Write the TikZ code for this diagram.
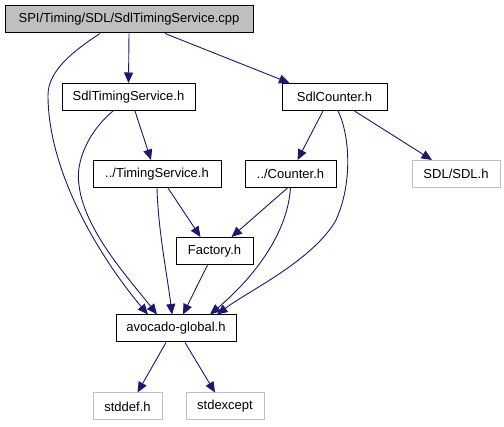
\documentclass[tikz,border=0pt]{standalone}
\usepackage{fontspec}
\setmainfont{Liberation Sans}
\usetikzlibrary{arrows.meta}
\definecolor{edgeblue}{RGB}{25,25,112}
\definecolor{lightframe}{RGB}{191,191,191}
\tikzset{
  box/.style={draw=black, line width=1pt, minimum height=27pt, inner sep=0pt, font=\fontsize{13}{15}\selectfont},
  greybox/.style={box, draw=lightframe},
  edge/.style={draw=edgeblue, line width=0.9pt, -{Triangle[length=10.5pt,width=9pt]}},
}
\begin{document}
\begin{tikzpicture}[x=1pt,y=-1pt]
\useasboundingbox (0,0) rectangle (504,427);
\node[box, fill=lightframe, minimum width=248pt] (top) at (129,19.5) {SPI/Timing/SDL/SdlTimingService.cpp};
\node[box, minimum width=133pt] (sts) at (128.5,97) {SdlTimingService.h};
\node[box, minimum width=105pt] (sc) at (334.5,97) {SdlCounter.h};
\node[box, minimum width=128pt] (ts) at (157,174) {../TimingService.h};
\node[box, minimum width=91pt] (ctr) at (290.5,174) {../Counter.h};
\node[greybox, minimum width=88pt] (sdl) at (456,174) {SDL/SDL.h};
\node[box, minimum width=77pt] (fac) at (214.5,251) {Factory.h};
\node[box, minimum width=120pt] (avo) at (176,328.5) {avocado-global.h};
\node[greybox, minimum width=69pt] (sdd) at (127.5,406.5) {stddef.h};
\node[greybox, minimum width=78pt] (sex) at (225,406.5) {stdexcept};

\draw[edge] (top.south) -- (sts.north);
\draw[edge] ([xshift=36pt]top.south) -- ([xshift=-45pt]sc.north);
\draw[edge] ([xshift=-29pt]top.south) .. controls (75,50) and (48,70) .. (48,95)
  .. controls (48,180) and (110,270) .. ([xshift=-28pt]avo.north);
\draw[edge] ([xshift=6.5pt]sts.south) -- ([xshift=-6pt]ts.north);
\draw[edge] ([xshift=-15.5pt]sts.south) .. controls (90,130) and (75,160) .. (79,185)
  .. controls (84,230) and (130,280) .. ([xshift=-19pt]avo.north);
\draw[edge] ([xshift=-11.5pt]sc.south) -- ([xshift=7pt]ctr.north);
\draw[edge] ([xshift=20pt]sc.south) -- ([xshift=-24pt]sdl.north);
\draw[edge] ([xshift=3.5pt]sc.south) .. controls (350,135) and (353,185) .. (335,222)
  .. controls (310,262) and (250,290) .. ([xshift=41pt]avo.north);
\draw[edge] ([xshift=11pt]ts.south) -- ([xshift=-14pt]fac.north);
\draw[edge] (ts.south) .. controls (158,230) and (168,280) .. ([xshift=-4pt]avo.north);
\draw[edge] ([xshift=-3pt]ctr.south) -- ([xshift=17pt]fac.north);
\draw[edge] (ctr.south) .. controls (287,240) and (245,285) .. ([xshift=34pt]avo.north);
\draw[edge] ([xshift=-7pt]fac.south) -- ([xshift=7pt]avo.north);
\draw[edge] ([xshift=-10pt]avo.south) -- ([xshift=10pt]sdd.north);
\draw[edge] ([xshift=9pt]avo.south) -- ([xshift=-10pt]sex.north);
\end{tikzpicture}
\end{document}
